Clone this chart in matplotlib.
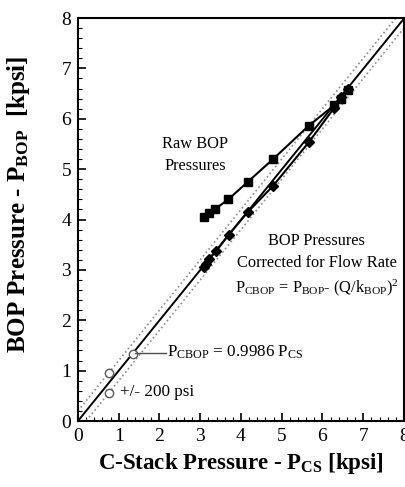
import numpy as np
import matplotlib
matplotlib.use('Agg')
import matplotlib.pyplot as plt
from matplotlib.ticker import MultipleLocator

plt.rcParams['font.family'] = 'Liberation Serif'
plt.rcParams['mathtext.fontset'] = 'custom'
plt.rcParams['mathtext.rm'] = 'Liberation Serif'
plt.rcParams['mathtext.bf'] = 'Liberation Serif:bold'
plt.rcParams['mathtext.it'] = 'Liberation Serif:italic'

# Raw BOP pressures vs C-stack pressure [kpsi]
raw_cs = [3.09, 3.21, 3.37, 3.69, 4.17, 4.79, 5.66, 6.29, 6.45, 6.62]
raw_bop = [4.05, 4.12, 4.21, 4.40, 4.75, 5.20, 5.86, 6.27, 6.40, 6.57]

# BOP pressures corrected for flow rate
cor_cs = [3.10, 3.15, 3.21, 3.39, 3.70, 4.17, 4.79, 5.66, 6.29, 6.45, 6.62]
cor_bop = [3.06, 3.12, 3.21, 3.37, 3.70, 4.15, 4.67, 5.53, 6.22, 6.43, 6.60]

# calibration points (open circles)
cal_cs = [0.76, 0.76, 1.34]
cal_bop = [0.96, 0.56, 1.34]

slope = 0.9986
band = 0.2  # +/- 200 psi

fig = plt.figure(figsize=(4.06, 4.87), dpi=100)
ax = fig.add_axes([0.192, 0.1355, 0.803, 0.8275])

xs = np.array([0, 8])
ax.plot(xs, xs + band, ':', color='0.55', lw=1.2)
ax.plot(xs, xs - band, ':', color='0.55', lw=1.2)
ax.plot(xs, slope * xs, '-', color='black', lw=1.4)

ax.plot(raw_cs, raw_bop, '-s', color='black', ms=6, lw=1.5)
ax.plot(cor_cs, cor_bop, '-D', color='black', ms=5, lw=1.5)
ax.plot(cal_cs, cal_bop, 'o', mfc='white', mec='0.35', ms=6, mew=1.0)

fs = 11.8
ax.text(2.88, 5.28, 'Raw BOP\nPressures', ha='center', va='center',
        fontsize=fs, linespacing=1.5)
ax.text(5.86, 3.35, 'BOP Pressures\nCorrected for Flow Rate', ha='center',
        va='center', fontsize=fs, linespacing=1.5)
ax.text(5.86, 2.64, r'P$_{\mathrm{CBOP}}$ = P$_{\mathrm{BOP}}$- (Q/k$_{\mathrm{BOP}}$)$^2$',
        ha='center', va='center', fontsize=fs)
ax.plot([1.40, 2.15], [1.36, 1.36], '-', color='0.3', lw=1.0)
ax.text(2.18, 1.36, r'P$_{\mathrm{CBOP}}$ = 0.9986 P$_{\mathrm{CS}}$',
        ha='left', va='center', fontsize=fs + 0.5)
ax.text(1.03, 0.58, '+/- 200 psi', ha='left', va='center', fontsize=fs + 0.5)

ax.set_xlim(0, 8)
ax.set_ylim(0, 8)
ax.xaxis.set_major_locator(MultipleLocator(1))
ax.yaxis.set_major_locator(MultipleLocator(1))
ax.xaxis.set_minor_locator(MultipleLocator(0.2))
ax.yaxis.set_minor_locator(MultipleLocator(0.2))
ax.tick_params(which='major', direction='in', length=6, width=1.2,
               labelsize=14, pad=5)
ax.tick_params(which='minor', direction='in', length=3, width=0.8)
for s in ax.spines.values():
    s.set_linewidth(1.5)

ax.set_xlabel(r'C-Stack Pressure - P$_{\mathbf{CS}}$ [kpsi]',
              fontsize=16.5, fontweight='bold', labelpad=4)
ax.set_ylabel(r'BOP Pressure - P$_{\mathbf{BOP}}$  [kpsi]',
              fontsize=18, fontweight='bold')
ax.yaxis.set_label_coords(-0.14, 0.538)

fig.savefig('out.png', dpi=100)
